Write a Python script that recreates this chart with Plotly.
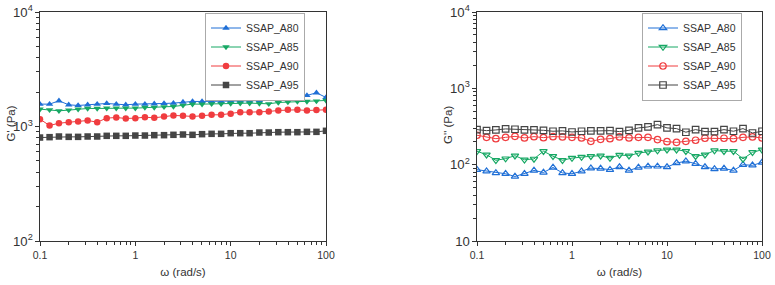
import plotly.graph_objects as go

omega = [0.1, 0.126, 0.158, 0.2, 0.251, 0.316, 0.398, 0.501, 0.631, 0.794,
         1, 1.26, 1.58, 2, 2.51, 3.16, 3.98, 5.01, 6.31, 7.94,
         10, 12.6, 15.8, 20, 25.1, 31.6, 39.8, 50.1, 63.1, 79.4, 100]

series_names = ["SSAP_A80", "SSAP_A85", "SSAP_A90", "SSAP_A95"]

# G' (Pa)
g1_a80 = [1568, 1568, 1677, 1547, 1526, 1547, 1568, 1589, 1568, 1547, 1568, 1568, 1578, 1589, 1600, 1633,
          1655, 1655, 1655, 1655, 1677, 1677, 1677, 1688, 1793, 1723, 1746, 1793, 1867, 1970, 1793]
g1_a85 = [1418, 1399, 1371, 1390, 1418, 1437, 1437, 1447, 1447, 1447, 1447, 1466, 1466, 1486, 1496, 1530,
          1568, 1568, 1578, 1578, 1589, 1600, 1600, 1589, 1578, 1620, 1633, 1655, 1655, 1666, 1688]
g1_a90 = [1159, 1020, 1069, 1091, 1106, 1128, 1091, 1183, 1199, 1175, 1183, 1206, 1191, 1223, 1248, 1240,
          1223, 1240, 1265, 1265, 1291, 1335, 1335, 1335, 1353, 1380, 1399, 1399, 1380, 1390, 1399]
g1_a95 = [801, 807, 818, 812, 812, 818, 818, 829, 829, 829, 834, 834, 840, 840, 846, 851,
          846, 857, 863, 863, 874, 874, 874, 886, 886, 892, 892, 892, 898, 898, 917]

# G'' (Pa)
g2_a80 = [86, 82, 78, 76, 70, 76, 84, 79, 92, 78, 76, 82, 90, 89, 86, 93,
          84, 92, 95, 95, 93, 105, 111, 103, 93, 88, 89, 84, 100, 98, 107]
g2_a85 = [150, 135, 114, 120, 131, 116, 119, 150, 129, 114, 122, 126, 129, 131, 122, 134,
          131, 142, 148, 153, 157, 157, 150, 129, 135, 153, 150, 150, 119, 145, 157]
g2_a90 = [243, 228, 219, 228, 235, 224, 233, 226, 233, 231, 228, 224, 202, 215, 219, 231,
          224, 228, 228, 213, 200, 196, 202, 209, 222, 222, 222, 219, 228, 231, 224]
g2_a95 = [288, 279, 285, 294, 291, 285, 285, 282, 274, 277, 268, 274, 277, 277, 279, 271,
          282, 303, 312, 335, 303, 297, 266, 288, 271, 271, 288, 274, 297, 260, 274]

x_title = "ω (rad/s)"
y_title_left = "G' (Pa)"
y_title_right = "G'' (Pa)"

colors = ["#1f6fd6", "#17a864", "#f03c3f", "#454545"]
sym_filled = ["triangle-up", "triangle-down", "circle", "square"]
sym_open = ["triangle-up-open", "triangle-down-open", "circle-open", "square-open"]

left_data = [g1_a80, g1_a85, g1_a90, g1_a95]
right_data = [g2_a80, g2_a85, g2_a90, g2_a95]

fig = go.Figure()
for name, ys, c, s in zip(series_names, left_data, colors, sym_filled):
    fig.add_trace(go.Scatter(x=omega, y=ys, name=name, mode="lines+markers",
                             line=dict(color=c, width=1),
                             marker=dict(symbol=s, size=6.5, color=c),
                             xaxis="x", yaxis="y", legend="legend"))
for name, ys, c, s in zip(series_names, right_data, colors, sym_open):
    fig.add_trace(go.Scatter(x=omega, y=ys, name=name, mode="lines+markers",
                             line=dict(color=c, width=1),
                             marker=dict(symbol=s, size=6.5, color=c, line=dict(width=1.2, color=c)),
                             xaxis="x2", yaxis="y2", legend="legend2"))

font_family = "Liberation Sans, Arial, sans-serif"
axcol = "#333333"

common_axis = dict(type="log", showline=True, linecolor=axcol, linewidth=1.3, mirror=True,
                   ticks="outside", ticklen=4, tickwidth=1, tickcolor=axcol,
                   showgrid=False, zeroline=False, dtick=1, automargin=False,
                   minor=dict(ticks="outside", ticklen=2.5, tickcolor=axcol, showgrid=False),
                   tickfont=dict(size=10.5, color=axcol, family=font_family))

H = 285.0
W = 775.0
yd = [1 - 241 / H, 1 - 12 / H]

legend_common = dict(xanchor="left", yanchor="top", bordercolor="#aaaaaa", borderwidth=1,
                     bgcolor="white", font=dict(size=10.5, color=axcol),
                     tracegroupgap=0, itemwidth=30)

ytitle_common = dict(xref="paper", yref="paper", showarrow=False, textangle=-90,
                     font=dict(size=11.5, color=axcol, family=font_family),
                     xanchor="center", yanchor="middle")

fig.update_layout(
    width=775, height=285,
    margin=dict(l=0, r=0, t=0, b=0, autoexpand=False),
    paper_bgcolor="white", plot_bgcolor="white",
    font=dict(family=font_family, color=axcol),
    xaxis=dict(common_axis, domain=[40 / W, 326 / W], range=[-1, 2], anchor="y",
               title=dict(text=x_title, font=dict(size=11.5), standoff=8)),
    yaxis=dict(common_axis, domain=yd, range=[2, 4], anchor="x", exponentformat="power"),
    xaxis2=dict(common_axis, domain=[477 / W, 762 / W], range=[-1, 2], anchor="y2",
                title=dict(text=x_title, font=dict(size=11.5), standoff=8)),
    yaxis2=dict(common_axis, domain=yd, range=[1, 4], anchor="x2", exponentformat="power"),
    legend=dict(legend_common, x=205 / W, y=1 - 12.5 / H),
    legend2=dict(legend_common, x=642 / W, y=1 - 12.5 / H),
    showlegend=True,
    annotations=[
        dict(ytitle_common, text=y_title_left, x=10.5 / W, y=1 - 124 / H),
        dict(ytitle_common, text=y_title_right, x=448 / W, y=1 - 125 / H),
    ],
)

fig.write_html("out.html",
               config={"displayModeBar": False},
               post_script="document.body.style.margin='0';document.body.style.padding='0';")
